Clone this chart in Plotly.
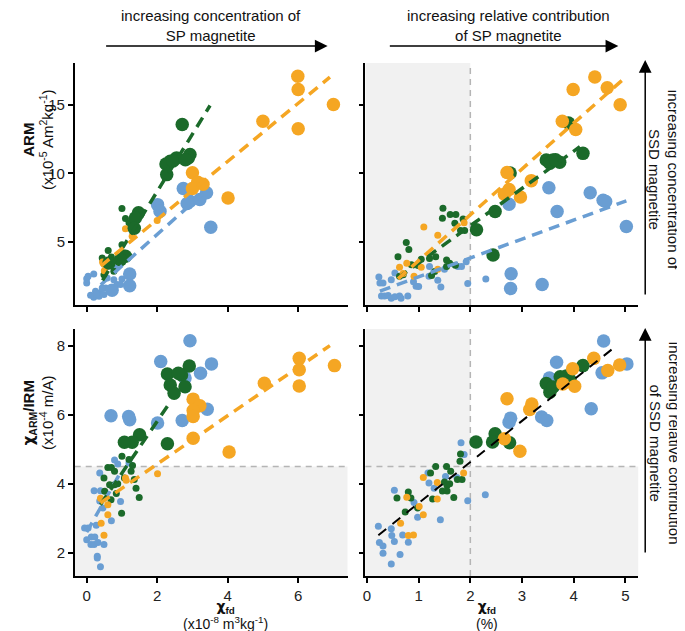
import plotly.graph_objects as go

# ---------------- data ----------------
# top-left: ARM vs chi_fd (absolute)
TL_BLUE_BIG = [(2.74, 8.89), (2.01, 7.72), (2.08, 7.24), (2.93, 7.97), (3.21, 8.09), (3.40, 8.58),
               (3.52, 6.07), (1.22, 2.66), (1.22, 1.81), (0.72, 1.47), (2.85, 7.8)]
TL_BLUE_SMALL = [(0.0, 2.32), (0.0, 2.0), (0.2, 2.66), (0.25, 1.4), (0.11, 1.11), (0.2, 0.96), (0.39, 1.28),
                 (0.49, 1.16), (0.54, 1.64), (0.58, 2.37), (0.77, 2.25), (0.86, 1.89), (0.82, 3.1),
                 (0.96, 1.89), (0.44, 1.64), (0.35, 1.03), (0.28, 1.2), (0.65, 1.5), (1.0, 2.3), (0.7, 3.4),
                 (0.04, 2.5)]
TL_GREEN_BIG = [(2.71, 13.56), (2.93, 11.37), (2.88, 11.13), (2.55, 11.13), (2.37, 10.89), (2.25, 10.69),
                (2.27, 9.91), (1.47, 7.12), (1.38, 6.75), (1.35, 6.0), (1.1, 3.95), (0.96, 3.7),
                (0.63, 3.47), (2.45, 10.9), (2.8, 11.0)]
TL_GREEN_SMALL = [(1.0, 7.43), (1.1, 6.7), (1.0, 4.8), (0.61, 4.37), (0.44, 3.83), (0.77, 2.86), (0.49, 2.6),
                  (0.55, 3.2), (0.85, 3.6), (1.2, 6.4), (0.7, 3.9), (1.05, 4.2)]
TL_ORANGE_BIG = [(5.99, 17.09), (6.0, 16.12), (7.0, 15.02), (5.0, 13.8), (6.0, 13.25), (3.0, 10.04),
                 (3.15, 9.35), (3.0, 8.9), (4.01, 8.2), (3.3, 9.2)]
TL_ORANGE_SMALL = [(2.0, 6.56), (1.1, 5.97), (1.29, 5.41), (0.45, 3.54), (0.55, 3.3), (0.5, 2.9)]

# top-right: ARM vs chi_fd (%)
TR_BLUE_BIG = [(3.52, 8.95), (4.32, 8.59), (4.57, 8.04), (4.62, 7.95), (2.75, 7.75), (3.68, 7.22),
               (5.02, 6.12), (2.79, 2.68), (2.78, 1.6), (3.39, 1.89)]
TR_BLUE_SMALL = [(2.3, 2.3), (1.95, 1.96), (1.43, 1.72), (0.95, 1.77), (1.0, 1.75), (0.23, 2.44), (0.25, 2.0),
                 (0.31, 2.0), (0.47, 2.25), (0.54, 2.73), (0.28, 1.05), (0.34, 1.05), (0.41, 1.1),
                 (0.47, 0.9), (0.54, 1.0), (0.63, 1.05), (0.66, 0.9), (0.79, 1.05), (1.21, 3.2), (1.2, 2.5),
                 (1.76, 3.2), (1.83, 3.2), (1.92, 3.56), (1.37, 2.2), (0.9, 2.1), (1.5, 3.0)]
TR_GREEN_BIG = [(3.9, 13.68), (4.18, 11.46), (3.47, 10.98), (3.6, 10.98), (3.73, 10.81), (3.54, 10.74),
                (2.77, 10.02), (2.48, 7.22), (2.12, 5.89), (2.44, 4.04), (3.65, 11.0)]
TR_GREEN_SMALL = [(1.47, 7.46), (1.61, 7.0), (1.72, 7.0), (1.46, 6.72), (1.7, 6.36), (1.86, 6.67),
                  (1.81, 5.84), (1.89, 5.84), (0.76, 4.95), (0.81, 4.45), (0.6, 3.92), (0.86, 3.33),
                  (0.99, 3.28), (1.05, 3.73), (1.21, 3.8), (1.33, 3.92), (1.54, 3.68), (1.6, 3.44),
                  (1.54, 3.2), (1.31, 2.85), (1.25, 2.56), (0.63, 2.49), (0.7, 2.6), (1.71, 3.3)]
TR_ORANGE_BIG = [(4.41, 17.03), (3.99, 16.12), (4.65, 16.24), (4.9, 15.0), (3.78, 13.8), (4.04, 13.2),
                 (2.71, 10.07), (3.18, 9.47), (2.75, 8.83), (2.66, 8.47), (2.97, 8.28)]
TR_ORANGE_SMALL = [(1.1, 6.08), (1.37, 5.48), (0.63, 3.16), (0.77, 3.44), (0.91, 2.49), (1.05, 3.16),
                   (1.37, 3.01), (1.88, 6.4), (0.7, 2.7)]

# bottom-left: chiARM/IRM vs chi_fd (absolute)
BL_BLUE_BIG = [(2.93, 8.14), (2.1, 7.54), (3.54, 7.47), (3.23, 7.2), (2.79, 7.06), (0.69, 5.97),
               (1.19, 5.95), (1.22, 5.85), (2.01, 5.76), (2.71, 5.83), (3.42, 6.16)]
BL_BLUE_SMALL = [(0.79, 4.69), (0.88, 4.57), (0.37, 4.31), (0.21, 3.8), (0.39, 3.8), (0.96, 3.49),
                 (0.37, 3.5), (0.46, 3.3), (0.7, 2.93), (-0.06, 2.72), (0.04, 2.72), (0.27, 2.8),
                 (0.13, 2.46), (0.23, 2.46), (0.0, 2.38), (0.12, 2.24), (0.21, 2.24), (0.32, 2.3),
                 (0.49, 2.24), (0.3, 1.9), (0.3, 1.85), (0.39, 1.6), (1.02, 5.22), (1.2, 4.6)]
BL_GREEN_BIG = [(2.29, 7.18), (2.91, 7.41), (2.69, 7.15), (2.37, 6.86), (2.48, 6.62), (2.79, 6.81),
                (1.5, 5.42), (1.29, 5.2), (1.07, 5.2), (2.29, 5.16), (2.6, 7.2)]
BL_GREEN_SMALL = [(0.6, 4.47), (0.7, 4.47), (0.79, 4.36), (0.49, 4.17), (1.3, 4.53), (1.26, 4.36),
                  (1.35, 4.12), (1.07, 4.17), (0.65, 3.97), (0.79, 3.97), (0.51, 3.78), (0.88, 4.0),
                  (1.49, 3.6), (0.99, 3.15), (0.69, 3.54), (0.84, 3.72), (1.4, 3.87), (1.0, 4.8),
                  (1.2, 4.7)]
BL_ORANGE_BIG = [(6.03, 7.63), (6.03, 7.3), (7.03, 7.42), (6.03, 6.83), (5.04, 6.91), (3.02, 6.45),
                 (3.21, 6.26), (3.02, 6.12), (3.02, 5.95), (3.02, 5.32), (4.04, 4.92)]
BL_ORANGE_SMALL = [(2.01, 4.29), (1.1, 4.17), (0.39, 3.58), (0.6, 3.39), (0.6, 3.1), (0.41, 2.86),
                   (0.49, 2.51), (1.12, 4.1)]

# bottom-right: chiARM/IRM vs chi_fd (%)
BR_BLUE_BIG = [(4.58, 8.13), (3.67, 7.52), (5.03, 7.47), (4.55, 7.21), (3.53, 7.06), (4.34, 6.17),
               (3.38, 5.93), (3.48, 5.83), (2.78, 5.9), (2.75, 5.78)]
BR_BLUE_SMALL = [(1.82, 5.19), (1.18, 4.31), (0.53, 3.81), (1.3, 3.87), (1.2, 4.02), (0.91, 3.46),
                 (0.98, 3.03), (1.42, 2.96), (1.95, 3.51), (0.22, 2.77), (0.47, 2.7), (0.48, 2.5),
                 (0.24, 2.3), (0.31, 2.2), (0.53, 2.33), (0.69, 2.52), (0.8, 2.31), (0.31, 1.99),
                 (0.64, 1.95), (0.47, 1.68), (1.74, 4.18), (1.52, 4.21), (2.29, 3.68), (1.88, 4.85)]
BR_GREEN_BIG = [(4.18, 7.42), (3.74, 7.1), (3.86, 7.12), (3.93, 7.0), (3.47, 6.9), (3.54, 6.65),
                (2.11, 5.21), (2.48, 5.45), (2.43, 5.21), (2.76, 5.19), (3.6, 6.8)]
BR_GREEN_SMALL = [(1.33, 4.5), (1.54, 4.5), (1.81, 4.86), (1.84, 4.12), (1.75, 4.12), (1.5, 4.05),
                  (1.55, 3.95), (1.6, 4.0), (1.62, 4.36), (1.23, 4.31), (0.8, 3.76), (0.58, 3.59),
                  (0.85, 3.59), (1.27, 3.56), (0.98, 3.3), (0.74, 3.18), (1.68, 3.6), (1.46, 3.79),
                  (1.55, 3.79), (1.8, 4.65)]
BR_ORANGE_BIG = [(4.39, 7.63), (3.98, 7.33), (4.66, 7.28), (4.89, 7.44), (3.79, 6.89), (4.02, 6.82),
                 (2.71, 6.46), (3.19, 6.31), (3.15, 6.15), (2.66, 5.3), (2.96, 4.94)]
BR_ORANGE_SMALL = [(1.09, 4.18), (1.36, 4.04), (1.87, 4.31), (0.77, 3.61), (1.01, 3.34), (1.36, 3.56),
                   (1.09, 3.1), (0.65, 2.86), (0.8, 2.5), (0.9, 2.52)]

# regression lines: (x_start, x_end, intercept, slope)
TL_FITS = {"blue": (0.4, 3.3, 0.95, 2.3), "green": (0.45, 3.5, 0.32, 4.18), "orange": (0.4, 6.9, 2.39, 2.12)}
TR_FITS = {"blue": (0.25, 5.02, 1.07, 1.38), "green": (0.6, 4.12, 0.74, 2.72), "orange": (0.6, 5.02, 0.3, 3.34)}
BL_FITS = {"blue": (0.0, 1.0, 2.6, 1.8), "green": (0.39, 2.4, 2.81, 1.5), "orange": (0.39, 6.9, 3.17, 0.7)}
BR_FITS = {"black": (0.22, 4.85, 2.25, 1.19)}

# thresholds
CHIFD_PCT_THRESHOLD = 2.0
RATIO_THRESHOLD = 4.5

# axis settings
X_ABS_RANGE = [-0.34, 7.4]
X_PCT_RANGE = [-0.03, 5.25]
Y_ARM_RANGE = [0.4, 18.05]
Y_RATIO_RANGE = [1.33, 8.48]
X_ABS_TICKS = [0, 2, 4, 6]
X_PCT_TICKS = [0, 1, 2, 3, 4, 5]
Y_ARM_TICKS = [5, 10, 15]
Y_RATIO_TICKS = [2, 4, 6, 8]

# ---------------- styles ----------------
COLORS = {"blue": "#6A9ED3", "green": "#1B6A2A", "orange": "#F5A623", "black": "#000000"}
BIG, SMALL = 13.5, 7
FONT = "Liberation Sans, Arial, Helvetica, sans-serif"
CHI = '<span style="font-family:DejaVu Sans">χ</span>'
W, H = 685, 631

fig = go.Figure()

panels = [
    ("x", "y", {"blue": (TL_BLUE_BIG, TL_BLUE_SMALL), "green": (TL_GREEN_BIG, TL_GREEN_SMALL),
                "orange": (TL_ORANGE_BIG, TL_ORANGE_SMALL)}, TL_FITS),
    ("x2", "y2", {"blue": (TR_BLUE_BIG, TR_BLUE_SMALL), "green": (TR_GREEN_BIG, TR_GREEN_SMALL),
                  "orange": (TR_ORANGE_BIG, TR_ORANGE_SMALL)}, TR_FITS),
    ("x3", "y3", {"blue": (BL_BLUE_BIG, BL_BLUE_SMALL), "green": (BL_GREEN_BIG, BL_GREEN_SMALL),
                  "orange": (BL_ORANGE_BIG, BL_ORANGE_SMALL)}, BL_FITS),
    ("x4", "y4", {"blue": (BR_BLUE_BIG, BR_BLUE_SMALL), "green": (BR_GREEN_BIG, BR_GREEN_SMALL),
                  "orange": (BR_ORANGE_BIG, BR_ORANGE_SMALL)}, BR_FITS),
]

for xa, ya, groups, fits in panels:
    for which, size in ((1, SMALL), (0, BIG)):
        for cname in ("blue", "green", "orange"):
            pts = groups[cname][which]
            fig.add_trace(go.Scatter(
                x=[p[0] for p in pts], y=[p[1] for p in pts], mode="markers",
                marker=dict(size=size, color=COLORS[cname], line=dict(width=0)),
                xaxis=xa, yaxis=ya, showlegend=False, hoverinfo="skip"))
    for cname, (x0, x1, b, m) in fits.items():
        black = cname == "black"
        fig.add_trace(go.Scatter(
            x=[x0, x1], y=[b + m * x0, b + m * x1], mode="lines",
            line=dict(color=COLORS[cname], width=2 if black else 3.5,
                      dash="10px,8px" if black else "11px,7px"),
            xaxis=xa, yaxis=ya, showlegend=False, hoverinfo="skip"))

# ---------------- axes ----------------
def px_x(p):
    return p / W

def px_y(p):
    return 1 - p / H

LEFT_DOM = [px_x(64), px_x(338)]
RIGHT_DOM = [px_x(356), px_x(630)]
TOP_DOM = [px_y(297), px_y(55)]
BOT_DOM = [px_y(568), px_y(321)]

common = dict(showline=True, linecolor="black", linewidth=1.5, ticks="outside", ticklen=5,
              tickwidth=1.5, tickcolor="black", showgrid=False, zeroline=False,
              tickfont=dict(family=FONT, size=15, color="#222"))

fig.update_layout(
    width=W, height=H, margin=dict(l=0, r=0, t=0, b=0),
    paper_bgcolor="white", plot_bgcolor="rgba(0,0,0,0)",
    xaxis=dict(domain=LEFT_DOM, anchor="y", range=X_ABS_RANGE, tickvals=X_ABS_TICKS, showticklabels=False, **common),
    yaxis=dict(domain=TOP_DOM, anchor="x", range=Y_ARM_RANGE, tickvals=Y_ARM_TICKS, **common),
    xaxis2=dict(domain=RIGHT_DOM, anchor="y2", range=X_PCT_RANGE, tickvals=X_PCT_TICKS, showticklabels=False, **common),
    yaxis2=dict(domain=TOP_DOM, anchor="x2", range=Y_ARM_RANGE, tickvals=Y_ARM_TICKS, showticklabels=False, **common),
    xaxis3=dict(domain=LEFT_DOM, anchor="y3", range=X_ABS_RANGE, tickvals=X_ABS_TICKS, **common),
    yaxis3=dict(domain=BOT_DOM, anchor="x3", range=Y_RATIO_RANGE, tickvals=Y_RATIO_TICKS, **common),
    xaxis4=dict(domain=RIGHT_DOM, anchor="y4", range=X_PCT_RANGE, tickvals=X_PCT_TICKS, **common),
    yaxis4=dict(domain=BOT_DOM, anchor="x4", range=Y_RATIO_RANGE, tickvals=Y_RATIO_TICKS, showticklabels=False, **common),
)

# ---------------- shading & threshold lines ----------------
SHADE = "#F1F1F1"
GRAYLINE = dict(color="#B5B5B5", width=1.5, dash="6px,5px")
shapes = []
shapes.append(dict(type="rect", xref="x2", yref="y2 domain", x0=X_PCT_RANGE[0], x1=CHIFD_PCT_THRESHOLD,
                   y0=0, y1=1, fillcolor=SHADE, line=dict(width=0), layer="below"))
shapes.append(dict(type="rect", xref="x3 domain", yref="y3", x0=0, x1=1, y0=Y_RATIO_RANGE[0],
                   y1=RATIO_THRESHOLD, fillcolor=SHADE, line=dict(width=0), layer="below"))
shapes.append(dict(type="rect", xref="x4", yref="y4 domain", x0=X_PCT_RANGE[0], x1=CHIFD_PCT_THRESHOLD,
                   y0=0, y1=1, fillcolor=SHADE, line=dict(width=0), layer="below"))
shapes.append(dict(type="rect", xref="x4 domain", yref="y4", x0=0, x1=1, y0=Y_RATIO_RANGE[0],
                   y1=RATIO_THRESHOLD, fillcolor=SHADE, line=dict(width=0), layer="below"))
shapes.append(dict(type="line", xref="x2", yref="y2 domain", x0=CHIFD_PCT_THRESHOLD, x1=CHIFD_PCT_THRESHOLD,
                   y0=0, y1=1, line=GRAYLINE, layer="below"))
shapes.append(dict(type="line", xref="x4", yref="y4 domain", x0=CHIFD_PCT_THRESHOLD, x1=CHIFD_PCT_THRESHOLD,
                   y0=0, y1=1, line=GRAYLINE, layer="below"))
shapes.append(dict(type="line", xref="x3 domain", yref="y3", x0=0, x1=1, y0=RATIO_THRESHOLD,
                   y1=RATIO_THRESHOLD, line=GRAYLINE, layer="below"))
shapes.append(dict(type="line", xref="x4 domain", yref="y4", x0=0, x1=1, y0=RATIO_THRESHOLD,
                   y1=RATIO_THRESHOLD, line=GRAYLINE, layer="below"))
fig.update_layout(shapes=shapes)

# ---------------- annotations ----------------
ann = []

def text(s, xp, yp, angle=0, size=15):
    ann.append(dict(text=s, x=px_x(xp), y=px_y(yp), xref="paper", yref="paper", showarrow=False,
                    textangle=angle, xanchor="center", yanchor="middle", align="center",
                    font=dict(family=FONT, size=size, color="#111")))

def arrow(x_tip, y_tip, x_tail, y_tail):
    ann.append(dict(text="", x=px_x(x_tip), y=px_y(y_tip), xref="paper", yref="paper",
                    ax=x_tail - x_tip, ay=y_tail - y_tip, axref="pixel", ayref="pixel",
                    showarrow=True, arrowhead=2, arrowsize=1.7, arrowwidth=1.5, arrowcolor="black"))

# top texts and arrows
text("increasing concentration of<br>SP magnetite", 201, 17)
arrow(318, 38, 95, 38)
text("increasing relative contribution<br>of SP magnetite", 500, 17)
arrow(610, 38, 380, 38)

# right texts and arrows
text("increasing concentration of<br>SSD magnetite", 656, 172, angle=90)
arrow(637, 52, 637, 288)
text("increasing relative contribution<br>of SSD magnetite", 656, 435, angle=90)
arrow(637, 320, 637, 546)

# y-axis titles
text("<b>ARM</b><br>(x10<sup>-5</sup> Am<sup>2</sup>kg<sup>-1</sup>)", 27, 132, angle=-90)
text("<b>" + CHI + "<sub>ARM</sub>/IRM</b><br>(x10<sup>-4</sup> m/A)", 27, 405, angle=-90)

# x-axis titles
text("<b>" + CHI + "<sub>fd</sub></b><br>(x10<sup>-8</sup> m<sup>3</sup>kg<sup>-1</sup>)", 215, 607, size=14)
text("<b>" + CHI + "<sub>fd</sub></b><br>(%)", 478, 607, size=14)

fig.update_layout(annotations=ann)
fig.write_html("out.html")
